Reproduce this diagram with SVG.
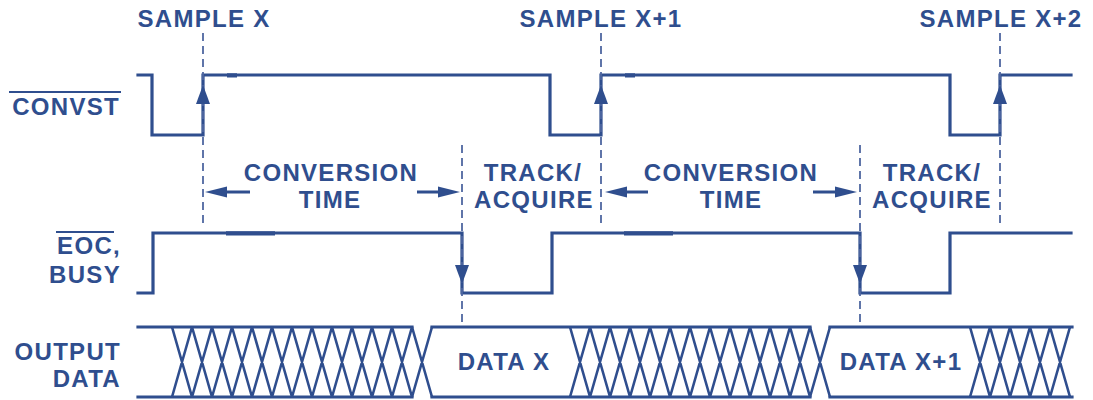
<svg xmlns="http://www.w3.org/2000/svg" xmlns:xlink="http://www.w3.org/1999/xlink" width="1093" height="400" viewBox="0 0 1093 400">
  <style>
    .sig { fill: none; stroke: #2f4e8e; stroke-width: 3.2; stroke-linejoin: miter; stroke-linecap: square; }
    .hatch { fill: none; stroke: #2f4e8e; stroke-width: 2.6; }
    .mark { fill: none; stroke: #2f4e8e; stroke-width: 4.2; }
    .guide { fill: none; stroke: #4f67a0; stroke-width: 1.8; stroke-dasharray: 8 5; }
    .span { fill: none; stroke: #2f4e8e; stroke-width: 3; }
    .head { fill: #2f4e8e; }
    .lbl { font-family: "Liberation Sans", Arial, sans-serif; font-weight: bold; font-size: 24px; letter-spacing: 1.3px; fill: #2f4e8e; }
    .mid { text-anchor: middle; }
    .end { text-anchor: end; }
    .bar { stroke: #2f4e8e; stroke-width: 1.8; }
  </style>
  <defs>
    <!-- horizontal arrowhead, tip at origin pointing right -->
    <path id="head-h" class="head" d="M0,0 L-22,-5.5 L-22,5.5 Z"/>
    <!-- edge arrowhead, tip at origin pointing up -->
    <path id="head-v" class="head" d="M0,0 L-7,19 L7,19 Z"/>
  </defs>

  <rect width="1093" height="400" fill="#ffffff"/>

  <!-- signal names -->
  <g id="names">
    <text class="lbl end" x="120" y="115">CONVST</text>
    <line class="bar" x1="9" y1="92" x2="121" y2="92"/>
    <text class="lbl end" x="121" y="254">EOC,</text>
    <line class="bar" x1="56" y1="232" x2="114" y2="232"/>
    <text class="lbl end" x="121" y="283">BUSY</text>
    <text class="lbl end" x="121" y="360">OUTPUT</text>
    <text class="lbl end" x="121" y="387">DATA</text>
  </g>

  <!-- sample instants -->
  <g id="samples">
    <text class="lbl mid" x="204" y="27">SAMPLE X</text>
    <text class="lbl mid" x="601" y="27">SAMPLE X+1</text>
    <text class="lbl mid" x="1001" y="27">SAMPLE X+2</text>
  </g>

  <!-- phase labels -->
  <g id="phases">
    <text class="lbl mid" x="331" y="181">CONVERSION</text>
    <text class="lbl mid" x="330" y="208">TIME</text>
    <text class="lbl mid" x="533" y="181">TRACK/</text>
    <text class="lbl mid" x="534" y="208">ACQUIRE</text>
    <text class="lbl mid" x="731" y="181">CONVERSION</text>
    <text class="lbl mid" x="731" y="208">TIME</text>
    <text class="lbl mid" x="932" y="181">TRACK/</text>
    <text class="lbl mid" x="932" y="208">ACQUIRE</text>
  </g>

  <!-- CONVST waveform -->
  <g id="convst">
    <path class="sig" d="M138,75 H152 V135 H203 V75 H550 V135 H601 V75 H950 V135 H1000 V75 H1071"/>
    <line class="mark" x1="227" y1="75.4" x2="237" y2="75.4"/>
    <line class="mark" x1="625" y1="75.4" x2="635" y2="75.4"/>
  </g>

  <!-- EOC / BUSY waveform -->
  <g id="eoc-busy">
    <path class="sig" d="M138,293 H153 V233 H462 V293 H552 V233 H860 V293 H950 V233 H1071"/>
    <line class="mark" x1="226" y1="233.4" x2="275" y2="233.4"/>
    <line class="mark" x1="624" y1="233.4" x2="673" y2="233.4"/>
  </g>

  <!-- output data bus -->
  <g id="output-data">
    <path class="sig" d="M138,327 H412 M138,397 H412 M432,327 H810 M432,397 H810 M830,327 H1072 M830,397 H1072"/>
    <path class="hatch" d="
      M172,327 L192,397 M192,327 L172,397
      M192,327 L212,397 M212,327 L192,397
      M212,327 L232,397 M232,327 L212,397
      M232,327 L252,397 M252,327 L232,397
      M252,327 L272,397 M272,327 L252,397
      M272,327 L292,397 M292,327 L272,397
      M292,327 L312,397 M312,327 L292,397
      M312,327 L332,397 M332,327 L312,397
      M332,327 L352,397 M352,327 L332,397
      M352,327 L372,397 M372,327 L352,397
      M372,327 L392,397 M392,327 L372,397
      M392,327 L412,397 M412,327 L392,397
      M412,327 L432,397 M432,327 L412,397
      M570,327 L590,397 M590,327 L570,397
      M590,327 L610,397 M610,327 L590,397
      M610,327 L630,397 M630,327 L610,397
      M630,327 L650,397 M650,327 L630,397
      M650,327 L670,397 M670,327 L650,397
      M670,327 L690,397 M690,327 L670,397
      M690,327 L710,397 M710,327 L690,397
      M710,327 L730,397 M730,327 L710,397
      M730,327 L750,397 M750,327 L730,397
      M750,327 L770,397 M770,327 L750,397
      M770,327 L790,397 M790,327 L770,397
      M790,327 L810,397 M810,327 L790,397
      M810,327 L830,397 M830,327 L810,397
      M970,327 L990,397 M990,327 L970,397
      M990,327 L1010,397 M1010,327 L990,397
      M1010,327 L1030,397 M1030,327 L1010,397
      M1030,327 L1050,397 M1050,327 L1030,397
      M1050,327 L1070,397 M1070,327 L1050,397"/>
    <text class="lbl mid" x="504" y="370">DATA X</text>
    <text class="lbl mid" x="901" y="370">DATA X+1</text>
  </g>

  <!-- timing guides and arrows -->
  <g id="connectors">
    <line class="guide" x1="203" y1="33" x2="203" y2="226"/>
    <line class="guide" x1="601" y1="33" x2="601" y2="226"/>
    <line class="guide" x1="1000" y1="33" x2="1000" y2="226"/>
    <line class="guide" x1="462" y1="145" x2="462" y2="325"/>
    <line class="guide" x1="860" y1="145" x2="860" y2="325"/>

    <line class="span" x1="250" y1="192" x2="215" y2="192"/>
    <use xlink:href="#head-h" transform="translate(205,192) rotate(180)"/>
    <line class="span" x1="417" y1="192" x2="450" y2="192"/>
    <use xlink:href="#head-h" transform="translate(460,192)"/>
    <line class="span" x1="648" y1="192" x2="615" y2="192"/>
    <use xlink:href="#head-h" transform="translate(605,192) rotate(180)"/>
    <line class="span" x1="813" y1="192" x2="847" y2="192"/>
    <use xlink:href="#head-h" transform="translate(857,192)"/>

    <use xlink:href="#head-v" transform="translate(203,85)"/>
    <use xlink:href="#head-v" transform="translate(601,85)"/>
    <use xlink:href="#head-v" transform="translate(1000,85)"/>
    <use xlink:href="#head-v" transform="translate(462,284) rotate(180)"/>
    <use xlink:href="#head-v" transform="translate(860,284) rotate(180)"/>
  </g>
</svg>
